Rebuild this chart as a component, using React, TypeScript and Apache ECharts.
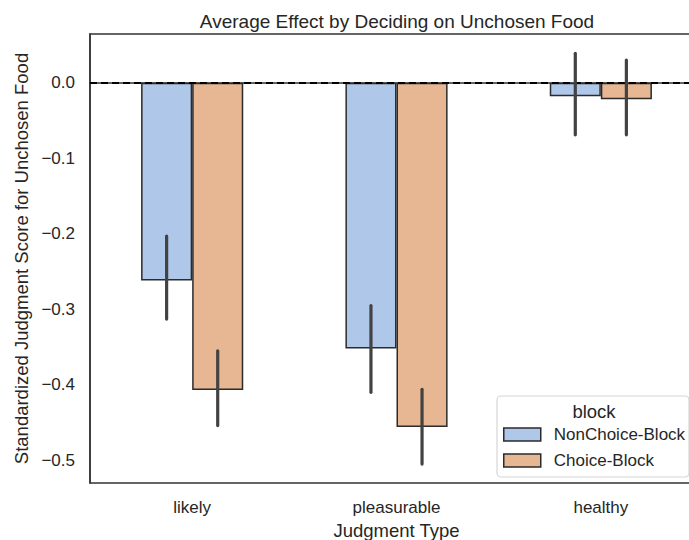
import React, { useEffect, useRef } from "react";
import * as echarts from "echarts";

const categories = ["likely", "pleasurable", "healthy"];
const seriesNames = ["NonChoice-Block", "Choice-Block"];
const nonChoice = [-0.262, -0.352, -0.018];
const choice = [-0.407, -0.456, -0.022];
const nonChoiceLow = [-0.313, -0.41, -0.069];
const nonChoiceHigh = [-0.203, -0.295, 0.039];
const choiceLow = [-0.454, -0.505, -0.069];
const choiceHigh = [-0.355, -0.406, 0.03];
const yTicks = [0, -0.1, -0.2, -0.3, -0.4, -0.5];

const FONT = "'Liberation Sans', Arial, sans-serif";
const TEXT = "#262626";
const BLUE = "#afc7e8";
const ORANGE = "#e6b792";
const EDGE = "#2b2b2b";
const ERR = "#424242";

function fmt(v: number): string {
  if (Math.abs(v) < 1e-9) return "0.0";
  return (v < 0 ? "\u2212" : "") + Math.abs(v).toFixed(1);
}

export default function App() {
  const ref = useRef<HTMLDivElement>(null);
  useEffect(() => {
    if (!ref.current) return;
    const chart = echarts.init(ref.current, null, { renderer: "svg" });

    const errSeries = (low: number[], high: number[], side: number) => ({
      type: "custom",
      z: 5,
      silent: true,
      data: categories.map((_, i) => [i, low[i], high[i]]),
      encode: { x: 0, y: [1, 2] },
      renderItem: (params: any, api: any) => {
        const i = api.value(0);
        const bw = api.size([1, 0])[0] * 0.25;
        const p1 = api.coord([i, api.value(1)]);
        const p2 = api.coord([i, api.value(2)]);
        const x = p1[0] + (side * bw) / 2;
        return {
          type: "line",
          shape: { x1: x, y1: p1[1], x2: x, y2: p2[1] },
          style: { stroke: ERR, lineWidth: 3.2, lineCap: "round" },
        };
      },
    });

    chart.setOption({
      animation: false,
      backgroundColor: "#ffffff",
      title: {
        text: "Average Effect by Deciding on Unchosen Food",
        left: 392,
        textAlign: "center",
        top: 7,
        textStyle: { fontFamily: FONT, fontSize: 19, fontWeight: "normal", color: TEXT },
      },
      grid: {
        left: 90,
        top: 34,
        width: 613,
        height: 449,
        containLabel: false,
        outerBoundsMode: "none",
        show: true,
        borderColor: "#333333",
        borderWidth: 1.5,
        backgroundColor: "#ffffff",
      },
      xAxis: {
        type: "category",
        data: categories,
        name: "Judgment Type",
        nameLocation: "middle",
        nameGap: 37,
        nameTextStyle: { fontFamily: FONT, fontSize: 18.5, color: TEXT },
        axisLine: { show: true, lineStyle: { color: "#333333", width: 1.5 } },
        axisTick: { show: false },
        axisLabel: { fontFamily: FONT, fontSize: 17, color: TEXT, margin: 16 },
        splitLine: { show: false },
      },
      yAxis: {
        type: "value",
        min: -0.53,
        max: 0.0645,
        name: "Standardized Judgment Score for Unchosen Food",
        nameLocation: "middle",
        nameGap: 59,
        nameTextStyle: { fontFamily: FONT, fontSize: 18.5, color: TEXT },
        axisLine: { show: true, lineStyle: { color: "#333333", width: 1.5 } },
        axisTick: { show: false, customValues: yTicks },
        axisLabel: {
          customValues: yTicks,
          formatter: (v: number) => fmt(v),
          fontFamily: FONT,
          fontSize: 17,
          color: TEXT,
          margin: 15,
        },
        splitLine: { show: false },
      },
      legend: {
        orient: "vertical",
        left: 503,
        top: 426,
        z: 10,
        itemWidth: 37,
        itemHeight: 13,
        itemGap: 9,
        padding: 0,
        icon: "rect",
        textStyle: { fontFamily: FONT, fontSize: 17, color: TEXT, lineHeight: 13, padding: [0, 0, 0, 8] },
        data: [
          { name: seriesNames[0], itemStyle: { color: BLUE, borderColor: EDGE, borderWidth: 1.5 } },
          { name: seriesNames[1], itemStyle: { color: ORANGE, borderColor: EDGE, borderWidth: 1.5 } },
        ],
      },
      graphic: [
        {
          type: "rect",
          z: 8,
          shape: { x: 497, y: 396, width: 192, height: 81, r: 4 },
          style: { fill: "rgba(255,255,255,0.85)", stroke: "#d6d6d6", lineWidth: 1.2 },
        },
        {
          type: "text",
          z: 9,
          x: 594,
          y: 411,
          style: {
            text: "block",
            fontFamily: FONT,
            fontSize: 18.5,
            fill: TEXT,
            align: "center",
            verticalAlign: "middle",
          },
        },
      ],
      series: [
        {
          name: seriesNames[0],
          type: "bar",
          data: nonChoice,
          barWidth: "25%",
          barGap: "0%",
          itemStyle: { color: BLUE, borderColor: EDGE, borderWidth: 1.5 },
        },
        {
          name: seriesNames[1],
          type: "bar",
          data: choice,
          barWidth: "25%",
          barGap: "0%",
          itemStyle: { color: ORANGE, borderColor: EDGE, borderWidth: 1.5 },
          markLine: {
            silent: true,
            symbol: "none",
            z: 4,
            label: { show: false },
            lineStyle: { color: "#000000", type: [7, 4], width: 1.8 },
            data: [{ yAxis: 0 }],
          },
        },
        errSeries(nonChoiceLow, nonChoiceHigh, -1),
        errSeries(choiceLow, choiceHigh, 1),
      ],
    });
    return () => chart.dispose();
  }, []);
  return (
    <div
      ref={ref}
      style={{ position: "fixed", left: 0, top: 0, width: 689, height: 540, background: "#fff" }}
    />
  );
}
